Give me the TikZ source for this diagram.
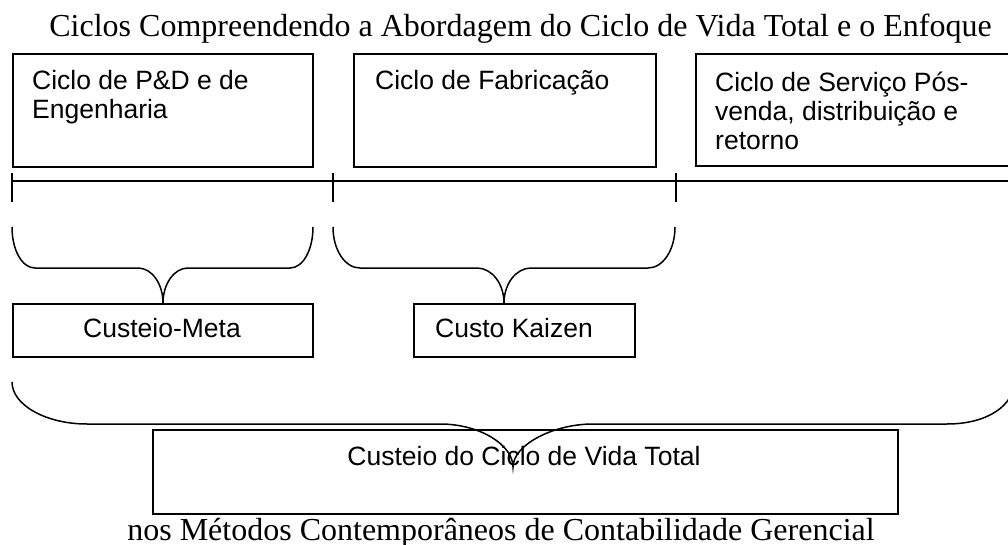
\documentclass[tikz,border=0pt]{standalone}
\usepackage{fontspec}
\setmainfont{Liberation Serif}
\newfontfamily\arialf{Liberation Sans}
\begin{document}
\begin{tikzpicture}[x=1pt,y=-1pt,
  box/.style={draw, line width=1.8pt, inner sep=0pt, anchor=north west},
  lbl/.style={font=\arialf\fontsize{26.5}{29}\selectfont, inner sep=0pt, anchor=base west},
  clbl/.style={font=\arialf\fontsize{26.5}{29}\selectfont, inner sep=0pt, anchor=base},
  ttl/.style={font=\fontsize{32}{36}\selectfont, inner sep=0pt, anchor=base},
  brace/.style={draw, line width=1.5pt},
  rulestyle/.style={draw, line width=1.5pt}]
\clip (0,0) rectangle (1008,545);
\fill[white] (0,0) rectangle (1008,545);

% titles
\node[ttl] (title) at (520.5,37) {Ciclos Compreendendo a Abordagem do Ciclo de Vida Total e o Enfoque};
\node[ttl] (subtitle) at (501,540) {nos Métodos Contemporâneos de Contabilidade Gerencial};

% top boxes
\node[box, minimum width=300pt, minimum height=113pt] (b1) at (12,53) {};
\node[box, minimum width=302pt, minimum height=113pt] (b2) at (353,53) {};
\node[box, minimum width=330pt, minimum height=112pt] (b3) at (695,53) {};
\node[lbl] (b1a) at (32,90) {Ciclo de P\&D e de};
\node[lbl] (b1b) at (32,119) {Engenharia};
\node[lbl] (b2a) at (375,90) {Ciclo de Fabricação};
\node[lbl] (b3a) at (715,92) {Ciclo de Serviço Pós-};
\node[lbl] (b3b) at (715,121) {venda, distribuição e};
\node[lbl] (b3c) at (715,150) {retorno};

% time line
\coordinate (l0) at (12,181);
\coordinate (l1) at (1012,181);
\draw[rulestyle] (l0) -- (l1);
\coordinate (t1a) at (12,173);  \coordinate (t1b) at (12,202);
\coordinate (t2a) at (333,173); \coordinate (t2b) at (333,202);
\coordinate (t3a) at (676,173); \coordinate (t3b) at (676,202);
\draw[rulestyle] (t1a) -- (t1b);
\draw[rulestyle] (t2a) -- (t2b);
\draw[rulestyle] (t3a) -- (t3b);

% lower boxes
\node[box, minimum width=300pt, minimum height=53pt] (meta) at (12,303) {};
\node[clbl] (metat) at (162,337) {Custeio-Meta};
\node[box, minimum width=221pt, minimum height=53pt] (kai) at (413,303) {};
\node[lbl] (kait) at (435,337) {Custo Kaizen};
\node[box, minimum width=745pt, minimum height=84pt] (tot) at (152,429) {};
\node[clbl] (tott) at (524,465) {Custeio do Ciclo de Vida Total};

% braces
\coordinate (mtip) at (163,303);
\coordinate (ktip) at (504,303);
\coordinate (ttip) at (513,467);
\draw[brace] (12,227) .. controls (12,250) and (22,268) .. (35,268) -- (138,268)
  .. controls (152,268) and (163,284) .. (mtip)
  .. controls (163,284) and (174,268) .. (188,268) -- (290,268)
  .. controls (303,268) and (313,250) .. (313,227);
\draw[brace] (333,227) .. controls (333,250) and (345,268) .. (360,268) -- (477,268)
  .. controls (492,268) and (504,284) .. (ktip)
  .. controls (504,284) and (516,268) .. (531,268) -- (648,268)
  .. controls (663,268) and (675,250) .. (675,227);
\draw[brace] (12,382) .. controls (12,405) and (46,424) .. (87,424) -- (440,424)
  .. controls (480,424) and (513,445) .. (ttip)
  .. controls (513,445) and (553,424) .. (593,424) -- (947,424)
  .. controls (988,424) and (1014,405) .. (1014,382);
\end{tikzpicture}
\end{document}
